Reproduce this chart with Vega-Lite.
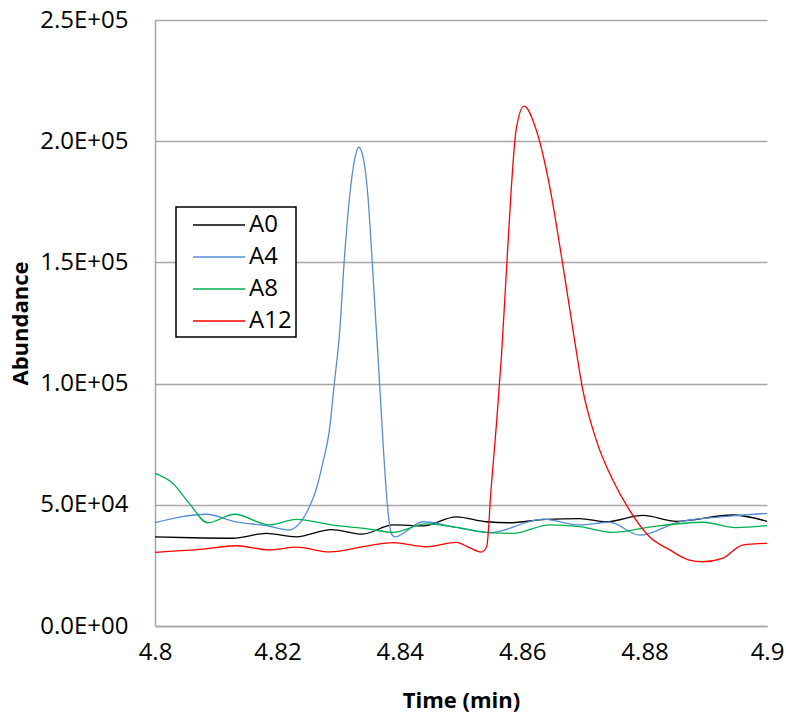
{
  "$schema": "https://vega.github.io/schema/vega-lite/v6.json",
  "width": 612,
  "height": 606,
  "autosize": {"type": "none"},
  "padding": {"left": 155, "top": 20, "right": 19, "bottom": 88},
  "background": "white",
  "config": {
    "view": {"stroke": null},
    "font": "Open Sans",
    "axis": {
      "labelFont": "Open Sans",
      "labelFontSize": 24,
      "labelColor": "#000000",
      "titleFont": "Open Sans",
      "titleFontSize": 22,
      "titleFontWeight": "bold",
      "titleColor": "#000000",
      "domainColor": "#a6a6a6",
      "domainWidth": 1.5,
      "gridColor": "#a6a6a6",
      "gridWidth": 1.5,
      "gridOpacity": 1,
      "ticks": false,
      "tickSize": 0
    },
    "legend": {
      "labelFont": "Open Sans",
      "labelFontSize": 24,
      "labelColor": "#000000"
    }
  },
  "data": {
    "values": [
      {"t": 4.8000, "v": 36800, "s": "A0"},
      {"t": 4.8061, "v": 36400, "s": "A0"},
      {"t": 4.8127, "v": 36200, "s": "A0"},
      {"t": 4.8182, "v": 38200, "s": "A0"},
      {"t": 4.8231, "v": 36800, "s": "A0"},
      {"t": 4.8288, "v": 39800, "s": "A0"},
      {"t": 4.8339, "v": 37900, "s": "A0"},
      {"t": 4.8389, "v": 41700, "s": "A0"},
      {"t": 4.8438, "v": 41300, "s": "A0"},
      {"t": 4.8492, "v": 45000, "s": "A0"},
      {"t": 4.8541, "v": 43000, "s": "A0"},
      {"t": 4.8579, "v": 42600, "s": "A0"},
      {"t": 4.8639, "v": 44000, "s": "A0"},
      {"t": 4.8694, "v": 44300, "s": "A0"},
      {"t": 4.8737, "v": 43000, "s": "A0"},
      {"t": 4.8797, "v": 45600, "s": "A0"},
      {"t": 4.8852, "v": 43200, "s": "A0"},
      {"t": 4.8944, "v": 45800, "s": "A0"},
      {"t": 4.9000, "v": 43200, "s": "A0"},

      {"t": 4.8000, "v": 42600, "s": "A4"},
      {"t": 4.8084, "v": 46100, "s": "A4"},
      {"t": 4.8132, "v": 43000, "s": "A4"},
      {"t": 4.8182, "v": 41400, "s": "A4"},
      {"t": 4.8220, "v": 39600, "s": "A4"},
      {"t": 4.8231, "v": 41000, "s": "A4"},
      {"t": 4.8247, "v": 46500, "s": "A4"},
      {"t": 4.8263, "v": 56100, "s": "A4"},
      {"t": 4.8274, "v": 67100, "s": "A4"},
      {"t": 4.8285, "v": 80900, "s": "A4"},
      {"t": 4.8293, "v": 100100, "s": "A4"},
      {"t": 4.8302, "v": 122100, "s": "A4"},
      {"t": 4.8309, "v": 149900, "s": "A4"},
      {"t": 4.8318, "v": 177100, "s": "A4"},
      {"t": 4.8326, "v": 192200, "s": "A4"},
      {"t": 4.8333, "v": 197500, "s": "A4"},
      {"t": 4.8341, "v": 192200, "s": "A4"},
      {"t": 4.8348, "v": 177100, "s": "A4"},
      {"t": 4.8355, "v": 149900, "s": "A4"},
      {"t": 4.8361, "v": 124900, "s": "A4"},
      {"t": 4.8367, "v": 100100, "s": "A4"},
      {"t": 4.8373, "v": 73900, "s": "A4"},
      {"t": 4.8380, "v": 49100, "s": "A4"},
      {"t": 4.8386, "v": 38200, "s": "A4"},
      {"t": 4.8392, "v": 36800, "s": "A4"},
      {"t": 4.8438, "v": 43000, "s": "A4"},
      {"t": 4.8492, "v": 40700, "s": "A4"},
      {"t": 4.8547, "v": 38500, "s": "A4"},
      {"t": 4.8634, "v": 44100, "s": "A4"},
      {"t": 4.8694, "v": 41700, "s": "A4"},
      {"t": 4.8743, "v": 42800, "s": "A4"},
      {"t": 4.8792, "v": 37500, "s": "A4"},
      {"t": 4.8857, "v": 43000, "s": "A4"},
      {"t": 4.8944, "v": 45400, "s": "A4"},
      {"t": 4.9000, "v": 46500, "s": "A4"},

      {"t": 4.8000, "v": 63000, "s": "A8"},
      {"t": 4.8029, "v": 58900, "s": "A8"},
      {"t": 4.8056, "v": 50600, "s": "A8"},
      {"t": 4.8086, "v": 42600, "s": "A8"},
      {"t": 4.8130, "v": 46100, "s": "A8"},
      {"t": 4.8187, "v": 41700, "s": "A8"},
      {"t": 4.8231, "v": 44000, "s": "A8"},
      {"t": 4.8288, "v": 41700, "s": "A8"},
      {"t": 4.8350, "v": 40000, "s": "A8"},
      {"t": 4.8389, "v": 38600, "s": "A8"},
      {"t": 4.8443, "v": 42100, "s": "A8"},
      {"t": 4.8492, "v": 40700, "s": "A8"},
      {"t": 4.8547, "v": 38500, "s": "A8"},
      {"t": 4.8585, "v": 38200, "s": "A8"},
      {"t": 4.8645, "v": 41700, "s": "A8"},
      {"t": 4.8694, "v": 41000, "s": "A8"},
      {"t": 4.8748, "v": 38600, "s": "A8"},
      {"t": 4.8813, "v": 41000, "s": "A8"},
      {"t": 4.8895, "v": 42800, "s": "A8"},
      {"t": 4.8949, "v": 40600, "s": "A8"},
      {"t": 4.9000, "v": 41400, "s": "A8"},

      {"t": 4.8000, "v": 30400, "s": "A12"},
      {"t": 4.8073, "v": 31600, "s": "A12"},
      {"t": 4.8133, "v": 33100, "s": "A12"},
      {"t": 4.8187, "v": 31400, "s": "A12"},
      {"t": 4.8231, "v": 32500, "s": "A12"},
      {"t": 4.8285, "v": 30600, "s": "A12"},
      {"t": 4.8350, "v": 33200, "s": "A12"},
      {"t": 4.8389, "v": 34400, "s": "A12"},
      {"t": 4.8443, "v": 32700, "s": "A12"},
      {"t": 4.8492, "v": 34500, "s": "A12"},
      {"t": 4.8514, "v": 32300, "s": "A12"},
      {"t": 4.8533, "v": 30500, "s": "A12"},
      {"t": 4.8542, "v": 32700, "s": "A12"},
      {"t": 4.8549, "v": 56100, "s": "A12"},
      {"t": 4.8558, "v": 83600, "s": "A12"},
      {"t": 4.8566, "v": 111100, "s": "A12"},
      {"t": 4.8574, "v": 145500, "s": "A12"},
      {"t": 4.8582, "v": 179900, "s": "A12"},
      {"t": 4.8590, "v": 204600, "s": "A12"},
      {"t": 4.8603, "v": 214500, "s": "A12"},
      {"t": 4.8623, "v": 204600, "s": "A12"},
      {"t": 4.8645, "v": 181200, "s": "A12"},
      {"t": 4.8666, "v": 149600, "s": "A12"},
      {"t": 4.8683, "v": 122100, "s": "A12"},
      {"t": 4.8699, "v": 97400, "s": "A12"},
      {"t": 4.8721, "v": 76700, "s": "A12"},
      {"t": 4.8748, "v": 60200, "s": "A12"},
      {"t": 4.8775, "v": 47900, "s": "A12"},
      {"t": 4.8808, "v": 36800, "s": "A12"},
      {"t": 4.8841, "v": 31400, "s": "A12"},
      {"t": 4.8873, "v": 27200, "s": "A12"},
      {"t": 4.8895, "v": 26500, "s": "A12"},
      {"t": 4.8927, "v": 27900, "s": "A12"},
      {"t": 4.8960, "v": 33400, "s": "A12"},
      {"t": 4.9000, "v": 34100, "s": "A12"}
    ]
  },
  "mark": {"type": "line", "interpolate": "monotone", "strokeWidth": 1.3},
  "encoding": {
    "x": {
      "field": "t",
      "type": "quantitative",
      "title": "Time (min)",
      "scale": {"domain": [4.8, 4.9], "nice": false, "zero": false},
      "axis": {
        "values": [4.8, 4.82, 4.84, 4.86, 4.88, 4.9],
        "format": ".2~f",
        "grid": false,
        "labelPadding": 14,
        "titlePadding": 26,
        "labelFlush": false
      }
    },
    "y": {
      "field": "v",
      "type": "quantitative",
      "title": "Abundance",
      "scale": {"domain": [0, 250000], "nice": false},
      "axis": {
        "values": [0, 50000, 100000, 150000, 200000, 250000],
        "labelExpr": "datum.value == 0 ? '0.0E+00' : (datum.value < 100000 ? format(datum.value / 10000, '.1f') + 'E+04' : format(datum.value / 100000, '.1f') + 'E+05')",
        "grid": true,
        "labelPadding": 27,
        "titlePadding": 7
      }
    },
    "color": {
      "field": "s",
      "type": "nominal",
      "scale": {"domain": ["A0", "A4", "A8", "A12"], "range": ["#000000", "#558ED5", "#00B050", "#FF0000"]},
      "legend": {
        "title": null,
        "orient": "none",
        "legendX": 21,
        "legendY": 187,
        "symbolType": "M-2,0H2",
        "symbolSize": 676,
        "symbolStrokeWidth": 1.5,
        "symbolOffset": 25,
        "labelOffset": 16,
        "rowPadding": 6,
        "padding": 4,
        "strokeColor": "#000000",
        "fillColor": "#ffffff",
        "encode": {"legend": {"update": {"strokeWidth": {"value": 1.5}, "width": {"value": 124}}}}
      }
    }
  }
}
